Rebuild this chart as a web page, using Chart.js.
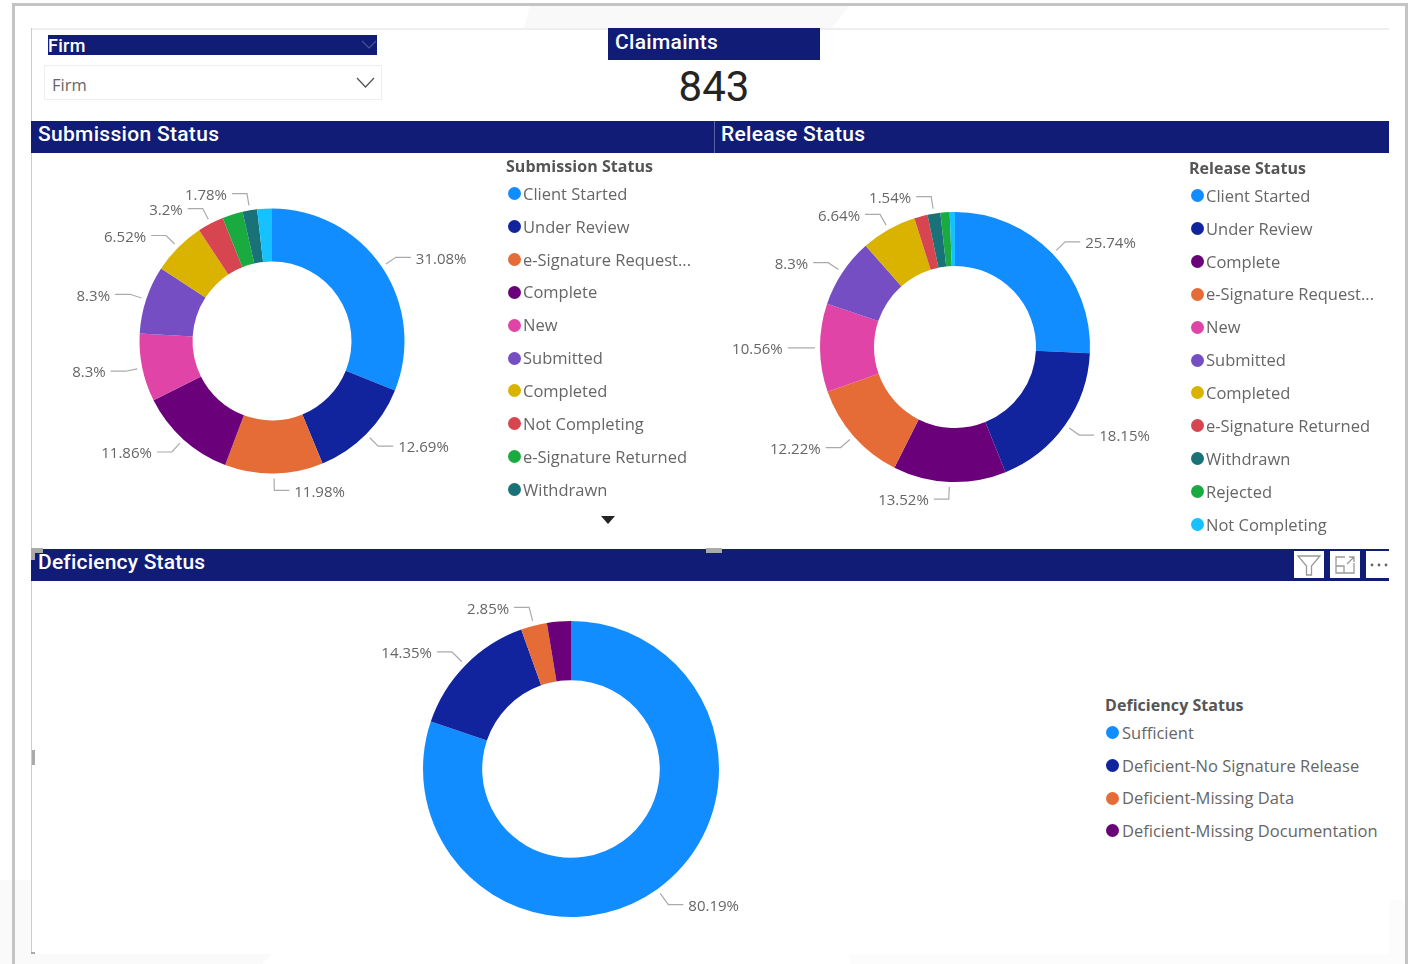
<!DOCTYPE html>
<html><head><meta charset="utf-8">
<script src="https://cdn.jsdelivr.net/npm/chart.js@4"></script>
<style>
html,body{margin:0;padding:0;background:#fff;overflow:hidden}
#page{position:relative;width:1409px;height:964px;overflow:hidden;font-family:"Open Sans",sans-serif}
.a{position:absolute;box-sizing:border-box}
.bar{background:#111C77;color:#fff;font-family:Roboto,sans-serif;font-weight:500;letter-spacing:.3px;white-space:nowrap}
.lt{position:absolute;font-weight:700;font-size:16px;color:#555;line-height:20px;white-space:nowrap;letter-spacing:.05px}
.li{position:absolute;font-size:16.5px;color:#666;line-height:20px;white-space:nowrap}
.dot{position:absolute;width:13px;height:13px;border-radius:50%}
canvas{position:absolute}
</style></head><body>
<div id="page">
<svg class="a" style="left:0;top:0" width="1409" height="964">
  <path d="M530 5H850L832 28H524Z" fill="#f9f9f9"/>
  <path d="M0 880H31V954H272L262 964H0Z" fill="#fafafa"/>
  <path d="M1389 900H1405V964H850V954H1389Z" fill="#fcfcfc"/>
</svg>
<div class="a" style="left:12px;top:3px;width:1396px;height:970px;border:3px solid #c4c4c4"></div>
<div class="a" style="left:31px;top:28px;width:1358px;height:2px;background:#eee"></div>
<div class="a" style="left:31px;top:28px;width:1px;height:926px;background:#ccc"></div>
<div class="a" style="left:31px;top:952px;width:4px;height:2px;background:#aaa"></div>

<div class="a bar" style="left:48px;top:35px;width:329px;height:20px;font-size:18px;line-height:22px">Firm</div>
<svg class="a" style="left:361px;top:38px" width="16" height="12"><path d="M1 3L8 10L15 3" fill="none" stroke="#4a5390" stroke-width="1.2"/></svg>
<div class="a" style="left:44px;top:65px;width:338px;height:35px;border:1px solid #eee;color:#666;font-size:16.5px;line-height:38px;padding-left:7px">Firm</div>
<svg class="a" style="left:356px;top:76px" width="20" height="15"><path d="M1 2L9.500 11L18 2" fill="none" stroke="#555" stroke-width="1.3"/></svg>
<div class="a bar" style="left:608px;top:28px;width:212px;height:32px;font-size:21px;line-height:28px;padding-left:7px">Claimaints</div>
<div class="a" style="left:608px;top:62px;width:212px;text-align:center;font-family:Roboto,sans-serif;font-size:42px;line-height:50px;color:#252423">843</div>

<div class="a bar" style="left:31px;top:121px;width:683px;height:32px;font-size:21px;line-height:27px;padding-left:7px">Submission Status</div>
<div class="a" style="left:714px;top:121px;width:1px;height:32px;background:#5a63a0"></div>
<div class="a bar" style="left:715px;top:121px;width:674px;height:32px;font-size:21px;line-height:27px;padding-left:6px">Release Status</div>
<div class="a bar" style="left:31px;top:549px;width:1358px;height:32px;font-size:21px;line-height:27px;padding-left:7px;letter-spacing:.2px">Deficiency Status</div>

<div class="a" style="left:1294px;top:551px;width:30px;height:27px;background:#fff"></div>
<svg class="a" style="left:1296px;top:553px" width="26" height="24"><path d="M2 3H24L15.500 13V22H10.500V13Z" fill="none" stroke="#999" stroke-width="1.300"/></svg>
<div class="a" style="left:1330px;top:551px;width:30px;height:27px;background:#fff"></div>
<svg class="a" style="left:1334px;top:555px" width="22" height="20"><path d="M11 2H2V18H20V8M2 11H10V18M13 9L20 2M15 2H20V7" fill="none" stroke="#999" stroke-width="1.300"/></svg>
<div class="a" style="left:1366px;top:551px;width:23px;height:27px;background:#fff"></div>
<svg class="a" style="left:1369px;top:561px" width="20" height="8"><circle cx="3" cy="4" r="1.400" fill="#666"/><circle cx="10" cy="4" r="1.400" fill="#666"/><circle cx="17" cy="4" r="1.400" fill="#666"/></svg>

<div class="a" style="left:31px;top:548px;width:12px;height:5px;background:#aaa"></div>
<div class="a" style="left:31px;top:548px;width:4px;height:12px;background:#aaa"></div>
<div class="a" style="left:706px;top:548px;width:16px;height:5px;background:#aaa"></div>
<div class="a" style="left:32px;top:750px;width:3px;height:15px;background:#aaa"></div>

<canvas id="c1" style="left:32px;top:151px"></canvas>
<canvas id="c2" style="left:720px;top:157px"></canvas>
<canvas id="c3" style="left:331px;top:589px"></canvas>

<svg class="a" style="left:601px;top:516px" width="14" height="8"><path d="M0 0H14L7 8Z" fill="#252423"/></svg>
</div>
<script>
const blue='#118DFF',navy='#12239E',orange='#E66C37',purple='#6B007B',pink='#E044A7',violet='#744EC2',yellow='#D9B300',red='#D64550',green='#1AAB40',teal='#197278',sky='#15C1FF';

const submissionTitle='Submission Status';
const submissionCategories=['Client Started','Under Review','e-Signature Request...','Complete','New','Submitted','Completed','Not Completing','e-Signature Returned','Withdrawn','Rejected'];
const submissionValues=[31.08,12.69,11.98,11.86,8.3,8.3,6.52,3.2,2.5,1.78,1.79];
const submissionLabelled=[true,true,true,true,true,true,true,true,false,true,false];
const submissionColors=[blue,navy,orange,purple,pink,violet,yellow,red,green,teal,sky];
const submissionLegendCount=10;

const releaseTitle='Release Status';
const releaseCategories=['Client Started','Under Review','Complete','e-Signature Request...','New','Submitted','Completed','e-Signature Returned','Withdrawn','Rejected','Not Completing'];
const releaseValues=[25.74,18.15,13.52,12.22,10.56,8.3,6.64,1.6,1.54,1.1,0.63];
const releaseLabelled=[true,true,true,true,true,true,true,false,true,false,false];
const releaseColors=[blue,navy,purple,orange,pink,violet,yellow,red,teal,green,sky];
const releaseLegendCount=11;

const deficiencyTitle='Deficiency Status';
const deficiencyCategories=['Sufficient','Deficient-No Signature Release','Deficient-Missing Data','Deficient-Missing Documentation'];
const deficiencyValues=[80.19,14.35,2.85,2.61];
const deficiencyLabelled=[true,true,true,false];
const deficiencyColors=[blue,navy,orange,purple];
const deficiencyLegendCount=4;

const leaderPlugin={
  id:'leaders',
  afterDatasetsDraw(chart,args,opts){
    const ctx=chart.ctx,meta=chart.getDatasetMeta(0),vals=chart.data.datasets[0].data;
    ctx.save();
    ctx.font='15px "Open Sans",sans-serif';
    ctx.textBaseline='middle';
    meta.data.forEach((arc,i)=>{
      if(!opts.labelled[i])return;
      const p=arc.getProps(['x','y','startAngle','endAngle','outerRadius'],true);
      const ang=(p.startAngle+p.endAngle)/2,c=Math.cos(ang),s=Math.sin(ang);
      const x0=p.x+c*(p.outerRadius+5),y0=p.y+s*(p.outerRadius+5);
      const x1=p.x+c*(p.outerRadius*1.128),y1=p.y+s*(p.outerRadius*1.128);
      const dir=c>=0?1:-1,x2=x1+dir*15;
      ctx.strokeStyle='#aaa';ctx.lineWidth=1.2;
      ctx.beginPath();ctx.moveTo(x0,y0);ctx.lineTo(x1,y1);ctx.lineTo(x2,y1);ctx.stroke();
      ctx.fillStyle='#666';
      ctx.textAlign=dir>0?'left':'right';
      ctx.fillText(vals[i]+'%',x2+dir*5,y1+2);
    });
    ctx.restore();
  }
};

function donut(id,w,h,labels,values,colors,labelled,radius,cutout){
  const el=document.getElementById(id);
  el.width=w;el.height=h;el.style.width=w+'px';el.style.height=h+'px';
  new Chart(el,{
    type:'doughnut',
    data:{labels,datasets:[{data:values,backgroundColor:colors,borderWidth:0}]},
    options:{responsive:false,animation:false,radius,cutout,rotation:0,circumference:360,
      layout:{padding:0},
      plugins:{legend:{display:false},tooltip:{enabled:false},title:{display:false},leaders:{labelled}}},
    plugins:[leaderPlugin]
  });
}
donut('c1',480,380,submissionCategories,submissionValues,submissionColors,submissionLabelled,132.5,'60%');
donut('c2',470,380,releaseCategories,releaseValues,releaseColors,releaseLabelled,135,'60%');
donut('c3',480,360,deficiencyCategories,deficiencyValues,deficiencyColors,deficiencyLabelled,148,'60%');

function legend(title,cats,cols,count,tx,ty,dx,ix,y0,ys){
  const page=document.getElementById('page');
  const t=document.createElement('div');t.className='lt';t.textContent=title;t.style.left=tx+'px';t.style.top=(ty-10)+'px';page.appendChild(t);
  for(let i=0;i<count;i++){
    const y=y0+i*ys;
    const d=document.createElement('div');d.className='dot';d.style.left=(dx-6.5)+'px';d.style.top=(y-7)+'px';d.style.background=cols[i];page.appendChild(d);
    const l=document.createElement('div');l.className='li';l.textContent=cats[i];l.style.left=ix+'px';l.style.top=(y-10.3)+'px';page.appendChild(l);
  }
}
legend(submissionTitle,submissionCategories,submissionColors,submissionLegendCount,506,166,514,523,194,32.9);
legend(releaseTitle,releaseCategories,releaseColors,releaseLegendCount,1189,168,1197,1206,196,32.9);
legend(deficiencyTitle,deficiencyCategories,deficiencyColors,deficiencyLegendCount,1105,705,1112,1122,733,32.8);
</script>
</body></html>
